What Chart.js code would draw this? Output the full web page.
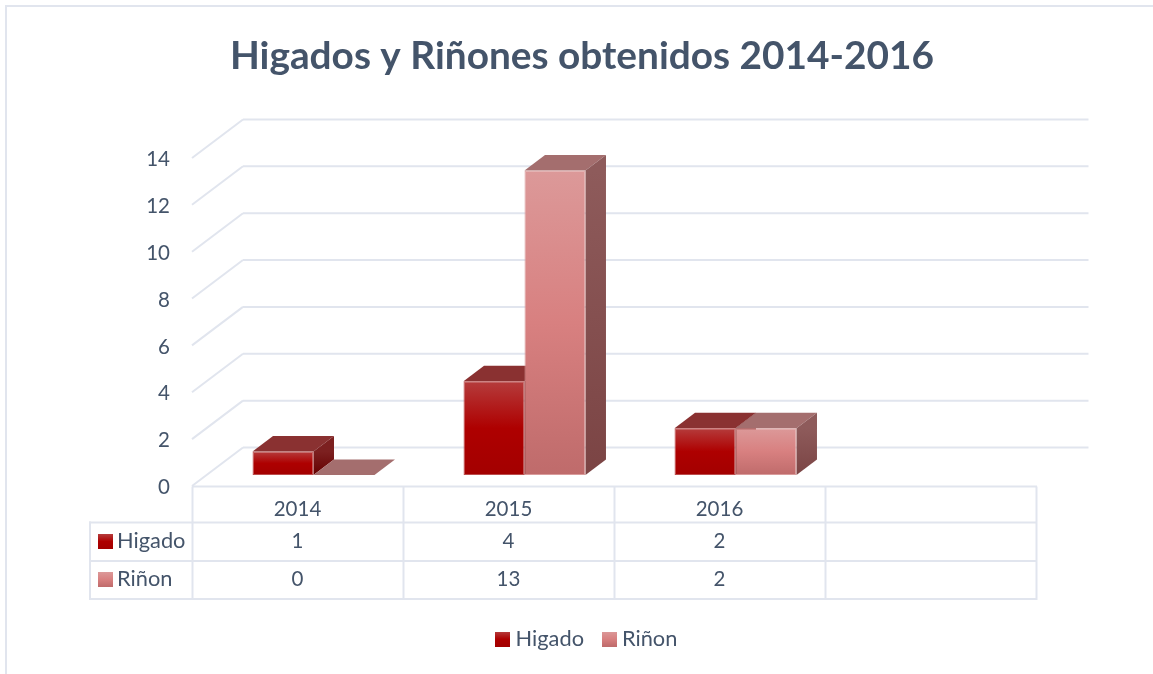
<!DOCTYPE html>
<html lang="es">
<head>
<meta charset="utf-8">
<title>Higados y Riñones obtenidos 2014-2016</title>
<script src="https://cdn.jsdelivr.net/npm/chart.js@4"></script>
<style>
  html, body { margin: 0; padding: 0; background: #fff; overflow: hidden; }
  canvas { display: block; }
</style>
</head>
<body>
<canvas id="chart" width="1153" height="674"></canvas>
<script>
// --- data ---
const years = ['2014', '2015', '2016', ''];
const higado = [1, 4, 2];
const rinon = [0, 13, 2];
const seriesNames = ['Higado', 'Riñon'];

const TEXT = '#44546A';
const LINE = '#E1E5EE';
const FONT = 'Lato';

// colours per series: front gradient, edge, top face, side gradient
const looks = [
  { front: ['#B53C3C', '#AE0000', '#A30000'], edge: '#BC4C4C', top: '#8A3131', side: ['#7C2020', '#650000'] },
  { front: ['#DC9999', '#D88080', '#BF6B6B'], edge: '#D99C9C', top: '#A46E6E', side: ['#8E5B5B', '#7B4444'] }
];

// fake 3D: wall sits behind the front plane, bars sit part way into it
const wall = { dx: 51, dy: -38.5, right: 1088.5 };
const bar = { dx: 16, dy: -11, depthX: 20.5, depthY: -15.5 };

function frontGradient(c, stops) {
  if (c.type !== 'data') return stops[0];
  const y = c.chart.scales.y;
  const g = c.chart.ctx.createLinearGradient(0, y.getPixelForValue(c.parsed.y), 0, y.getPixelForValue(0));
  g.addColorStop(0, stops[0]);
  g.addColorStop(0.5, stops[1]);
  g.addColorStop(1, stops[2]);
  return g;
}

function legendKey(stops) {
  const c = document.createElement('canvas');
  c.width = 15;
  c.height = 15;
  const k = c.getContext('2d');
  const g = k.createLinearGradient(0, 0, 0, 15);
  g.addColorStop(0, stops[0]);
  g.addColorStop(0.5, stops[1]);
  g.addColorStop(1, stops[2]);
  k.fillStyle = g;
  k.fillRect(0, 0, 15, 15);
  return c;
}

function poly(ctx, pts, fill) {
  ctx.beginPath();
  pts.forEach((p, i) => i ? ctx.lineTo(p[0], p[1]) : ctx.moveTo(p[0], p[1]));
  ctx.closePath();
  ctx.fillStyle = fill;
  ctx.fill();
}

function line(ctx, x1, y1, x2, y2) {
  ctx.beginPath();
  ctx.moveTo(x1, y1);
  ctx.lineTo(x2, y2);
  ctx.stroke();
}

// frame, back wall grid and data table
const backdrop = {
  id: 'backdrop',
  afterLayout(chart) {
    // legend sits a bit right of the title in the original
    chart.legend.left += 7;
    chart.legend.right += 7;
  },
  beforeDatasetsDraw(chart) {
    const { ctx, scales: { x, y } } = chart;
    ctx.save();
    ctx.strokeStyle = LINE;
    ctx.lineWidth = 2;

    // outer frame, only top and left are inside the picture
    line(ctx, 6, 6, chart.width, 6);
    line(ctx, 6, 5, 6, chart.height);

    // gridlines
    y.ticks.forEach(t => {
      const py = y.getPixelForValue(t.value);
      line(ctx, x.left, py, x.left + wall.dx, py + wall.dy);
      line(ctx, x.left + wall.dx, py + wall.dy, wall.right, py + wall.dy);
    });

    // data table
    const base = y.getPixelForValue(0) + 0.5;
    const rows = [522.5, 561, 599];
    const rowText = [541, 579];
    const cellW = x.width / years.length;
    line(ctx, x.left, base, x.right + 1, base);
    rows.forEach(r => line(ctx, 89, r, x.right + 1, r));
    line(ctx, 90, rows[0] - 1, 90, rows[2] + 1);
    for (let i = 0; i <= years.length; i++) {
      line(ctx, x.left + i * cellW + 0.5, base, x.left + i * cellW + 0.5, rows[2] + 1);
    }

    ctx.fillStyle = TEXT;
    ctx.textBaseline = 'middle';
    [higado, rinon].forEach((vals, s) => {
      const my = rowText[s];
      ctx.font = '21.8px ' + FONT;
      ctx.textAlign = 'left';
      ctx.fillText(seriesNames[s], 117, my);
      ctx.drawImage(legendKey(looks[s].front), 98, my - 7);
      ctx.font = '20.5px ' + FONT;
      ctx.textAlign = 'center';
      vals.forEach((v, i) => ctx.fillText(String(v), x.getPixelForTick(i), my));
    });
    ctx.restore();

    // top and side faces of the bars, series by series
    [0, 1].forEach(s => {
      chart.getDatasetMeta(s).data.forEach(el => {
        const l = el.x - el.width / 2 + bar.dx;
        const r = el.x + el.width / 2 + bar.dx;
        const t = el.y + bar.dy;
        const b = el.base + bar.dy;
        poly(ctx, [[l, t], [r, t], [r + bar.depthX, t + bar.depthY], [l + bar.depthX, t + bar.depthY]], looks[s].top);
        const g = ctx.createLinearGradient(0, t, 0, b);
        g.addColorStop(0, looks[s].side[0]);
        g.addColorStop(1, looks[s].side[1]);
        poly(ctx, [[r, t], [r + bar.depthX, t + bar.depthY], [r + bar.depthX, b + bar.depthY], [r, b]], g);
      });
    });

    // the fronts are the library's own bars, pushed into the box
    ctx.save();
    ctx.translate(bar.dx, bar.dy);
  },
  afterDatasetsDraw(chart) {
    chart.ctx.restore();
  }
};

new Chart(document.getElementById('chart'), {
  type: 'bar',
  data: {
    labels: years,
    datasets: [
      { label: seriesNames[0], data: higado, clip: false, borderColor: looks[0].edge, backgroundColor: c => frontGradient(c, looks[0].front) },
      { label: seriesNames[1], data: rinon, clip: false, borderColor: looks[1].edge, backgroundColor: c => frontGradient(c, looks[1].front) }
    ]
  },
  options: {
    responsive: false,
    animation: false,
    events: [],
    layout: { padding: { left: 11, right: 0, top: 0, bottom: 14 } },
    datasets: {
      bar: {
        categoryPercentage: 0.578,
        barPercentage: 1,
        borderWidth: 1,
        borderSkipped: false
      }
    },
    scales: {
      x: {
        grid: { display: false, drawTicks: false },
        border: { display: false },
        ticks: { color: TEXT, font: { family: FONT, size: 20.5 }, padding: 11, maxRotation: 0, autoSkip: false },
        afterFit(s) { s.height = 674 - 486 - 14 - s.chart.legend.height; }
      },
      y: {
        min: 0,
        max: 14,
        grid: { display: false, drawTicks: false },
        border: { display: false },
        ticks: { color: TEXT, font: { family: FONT, size: 20.5 }, stepSize: 2, padding: 22, labelOffset: 1.5 },
        afterFit(s) { s.width = 192 - 11; }
      },
      // only keeps the plot clear of the right side
      spacer: {
        position: 'right',
        grid: { display: false, drawTicks: false },
        border: { display: false },
        ticks: { display: false },
        afterFit(s) { s.width = 1153 - 1036; }
      }
    },
    plugins: {
      tooltip: { enabled: false },
      title: {
        display: true,
        text: 'Higados y Riñones obtenidos 2014-2016',
        color: TEXT,
        font: { family: FONT, size: 38.8, weight: 'bold', lineHeight: 1.2 },
        padding: { top: 33, bottom: 78.4 }
      },
      legend: {
        position: 'bottom',
        labels: {
          color: TEXT,
          font: { family: FONT, size: 21.8 },
          usePointStyle: true,
          pointStyleWidth: 4,
          padding: 23,
          generateLabels: () => seriesNames.map((name, i) => ({
            text: name,
            datasetIndex: i,
            fontColor: TEXT,
            lineWidth: 0,
            strokeStyle: 'transparent',
            fillStyle: looks[i].front[1],
            pointStyle: legendKey(looks[i].front)
          }))
        }
      }
    }
  },
  plugins: [backdrop]
});
</script>
</body>
</html>
